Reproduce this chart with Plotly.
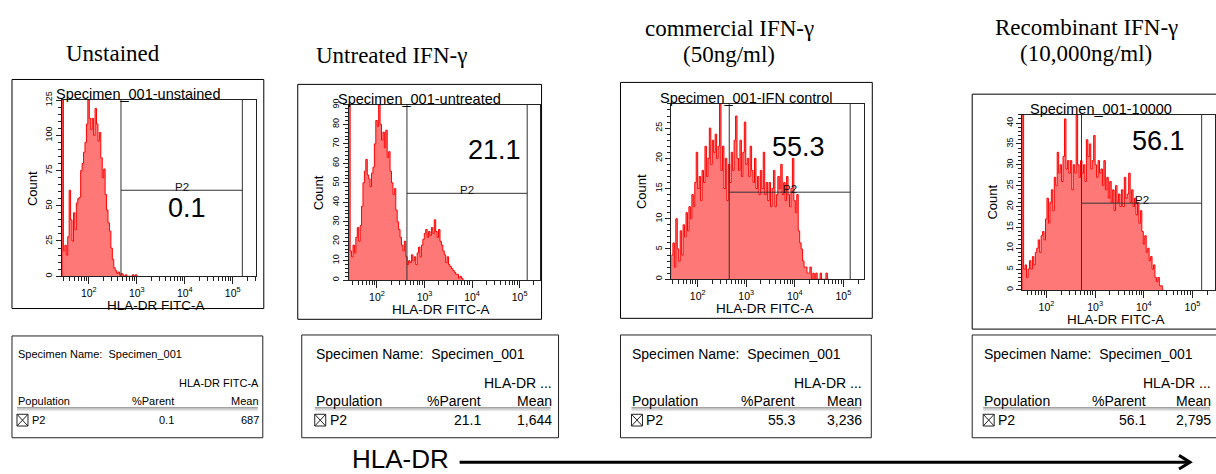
import numpy as np
import plotly.graph_objects as go

W, H = 1216, 474
SANS = "Liberation Sans, Arial, sans-serif"
SERIF = "Liberation Serif, Times New Roman, serif"

# ---- data -----------------------------------------------------------------
BIN_WIDTH = 0.03  # width of one histogram channel, in log10 units

panel_titles = [
    ["Unstained"],
    ["Untreated IFN-γ"],
    ["commercial IFN-γ", "(50ng/ml)"],
    ["Recombinant IFN-γ", "(10,000ng/ml)"],
]
specimen_names = ["Specimen_001-unstained", "Specimen_001-untreated",
                  "Specimen_001-IFN control", "Specimen_001-10000"]
pct_parent = [0.1, 21.1, 55.3, 56.1]
mean_fitc = ["687", "1,644", "3,236", "2,795"]
mean_headers = ["HLA-DR FITC-A", "HLA-DR ...", "HLA-DR ...", "HLA-DR ..."]

unstained_counts = [300, 18, 22, 15, 28, 61, 40, 25, 45, 33, 52, 55, 56, 75, 80, 88,
                    95, 108, 125, 112, 104, 112, 100, 119, 108, 96, 102, 84, 70, 76,
                    58, 47, 38, 32, 20, 12, 6, 4, 2, 3, 1, 2, 1, 0, 1, 0, 0, 0, 0, 1,
                    0, 1, 0]
untreated_counts = [200, 15, 12, 18, 14, 22, 27, 20, 28, 38, 50, 56, 62, 54, 52, 48,
                    55, 58, 70, 82, 79, 90, 80, 72, 76, 68, 77, 63, 66, 56, 50, 44,
                    47, 36, 30, 26, 22, 18, 15, 20, 12, 8, 10, 9, 13, 10, 12, 8, 14,
                    17, 12, 18, 21, 24, 26, 22, 25, 23, 27, 24, 31, 25, 22, 26, 20,
                    18, 15, 13, 9, 12, 8, 7, 6, 5, 4, 3, 3, 1, 2, 1, 0]
commercial_counts = [4, 6, 2, 10, 5, 3, 8, 4, 9, 7, 11, 8, 12, 10, 14, 12, 16, 21, 15,
                     17, 13, 18, 16, 22, 17, 20, 25, 19, 23, 21, 24, 20, 22, 29, 18,
                     22, 15, 20, 13, 19, 16, 21, 18, 23, 27, 20, 18, 23, 17, 21, 26,
                     19, 20, 17, 22, 18, 16, 20, 15, 17, 14, 18, 15, 21, 14, 16, 13,
                     16, 12, 15, 18, 12, 14, 17, 15, 19, 14, 16, 13, 17, 14, 12, 15,
                     20, 13, 11, 14, 8, 6, 5, 3, 2, 2, 1, 1, 2, 0, 1, 0, 1, 0, 0, 1,
                     0, 0, 0, 1, 0]
recombinant_counts = [60, 5, 6, 3, 5, 7, 5, 8, 6, 9, 10, 12, 9, 13, 14, 12, 17, 22, 16,
                      21, 24, 19, 27, 25, 33, 28, 30, 26, 32, 41, 29, 31, 28, 31, 24,
                      30, 28, 42, 30, 27, 31, 28, 30, 26, 36, 32, 35, 29, 31, 37, 30,
                      27, 31, 28, 29, 25, 31, 24, 27, 22, 26, 21, 24, 19, 25, 21, 23,
                      20, 24, 20, 27, 22, 23, 28, 21, 24, 20, 22, 18, 21, 16, 19, 14,
                      11, 13, 9, 10, 7, 8, 5, 6, 3, 2, 3, 1, 1, 0]
counts = [unstained_counts, untreated_counts, commercial_counts, recombinant_counts]

hist_start = [1.44, 1.405, 1.46, 1.50]          # log10 of the first displayed channel
x_ranges = [[1.44, 5.48], [1.405, 5.42], [1.46, 5.43], [1.50, 5.464]]
y_max = [125, 90, 29, 42]
y_dtick = [25, 10, 5, 5]
y_minor = [5, 2, 1, 1]
gate_lo = [2.67, 2.63, 2.65, 2.72]
gate_hi = [5.20, 5.16, 5.14, 5.19]
gate_level = [61, 44.6, 14.4, 20.8]

decades = [2, 3, 4, 5]
decade_text = ["10<sup>2</sup>", "10<sup>3</sup>", "10<sup>4</sup>", "10<sup>5</sup>"]

# ---- page layout (pixels) -------------------------------------------------
plot_px = [(62, 93, 256, 273), (349, 98, 540, 277), (672, 97, 865, 276), (1023, 108, 1216, 287)]
box_px = [(12, 72, 264, 306), (298, 77, 542, 317), (621, 75, 873, 316), (973, 87, 1230, 327)]
table_px = [(12, 334, 263, 438), (302, 333, 559, 438), (621, 333, 872, 438), (973, 333, 1230, 438)]
table_cols = [(17, 173, 258), (315, 480, 551), (632, 795, 862), (984, 1146, 1211)]
table_fonts = [11, 14, 14, 14]
big_label_px = [(187, 203), (495, 144), (799, 141), (1159, 135)]
title_px = [[(113, 45)], [(392, 47)], [(730, 20), (730, 46)], [(1087, 19), (1087, 45)]]


def fx(px):
    return px / W


def fy(py):
    return 1 - py / H


fig = go.Figure()


def text(x, y, s, size, family=SANS, xanchor="center", angle=0, yanchor="middle"):
    fig.add_annotation(x=fx(x), y=fy(y), xref="paper", yref="paper", text=s,
                       showarrow=False, xanchor=xanchor, yanchor=yanchor,
                       textangle=angle, borderpad=0,
                       font=dict(family=family, size=size, color="#000"))


def pline(x0, y0, x1, y1, color="#000", width=1):
    fig.add_shape(type="line", xref="paper", yref="paper", x0=fx(x0), y0=fy(y0),
                  x1=fx(x1), y1=fy(y1), line=dict(color=color, width=width))


def prect(x0, y0, x1, y1, color="#000", width=1):
    fig.add_shape(type="rect", xref="paper", yref="paper", x0=fx(x0), y0=fy(y0),
                  x1=fx(x1), y1=fy(y1), line=dict(color=color, width=width))


layout_axes = {}
for i in range(4):
    xa = "x" if i == 0 else f"x{i + 1}"
    ya = "y" if i == 0 else f"y{i + 1}"
    l, t, r, b = plot_px[i]

    # histogram: step outline over channel edges, filled to zero
    c = counts[i]
    edges = hist_start[i] + BIN_WIDTH * np.arange(len(c) + 1)
    xs = np.concatenate([[edges[0]], edges])
    ys = [0] + list(c) + [0]
    fig.add_trace(go.Scatter(
        x=xs, y=ys, mode="lines", xaxis=xa, yaxis=ya,
        line=dict(color="#ff0000", width=1, shape="hv"),
        fill="tozeroy", fillcolor="rgba(255,105,105,0.9)",
        hoverinfo="skip", showlegend=False))

    lo, hi = x_ranges[i]
    minor_vals = [np.log10(k * 10.0 ** n) for n in range(1, 6) for k in range(2, 10)
                  if lo < np.log10(k * 10.0 ** n) < hi]
    layout_axes["xaxis" if i == 0 else f"xaxis{i + 1}"] = dict(
        domain=[fx(l), fx(r)], anchor=ya, range=[lo, hi],
        showline=True, mirror=True, linecolor="#222", linewidth=1,
        showgrid=False, zeroline=False,
        ticks="outside", ticklen=7, tickcolor="#222", tickwidth=1,
        tickmode="array", tickvals=decades, ticktext=decade_text,
        tickfont=dict(family=SANS, size=10.5, color="#000"),
        minor=dict(tickmode="array", tickvals=minor_vals, ticks="outside",
                   ticklen=4, tickcolor="#222", tickwidth=1, showgrid=False),
    )
    layout_axes["yaxis" if i == 0 else f"yaxis{i + 1}"] = dict(
        domain=[fy(b), fy(t)], anchor=xa, range=[0, y_max[i]],
        showline=True, mirror=True, linecolor="#222", linewidth=1,
        showgrid=False, zeroline=False,
        ticks="outside", ticklen=5, tickcolor="#222", tickwidth=1,
        dtick=y_dtick[i], tick0=0, tickangle=-90,
        tickfont=dict(family=SANS, size=9, color="#000"),
        minor=dict(dtick=y_minor[i], tick0=0, ticks="outside", ticklen=3,
                   tickcolor="#222", tickwidth=1, showgrid=False),
    )

    # gate P2
    gline = dict(color="#333", width=1)
    for gx in (gate_lo[i], gate_hi[i]):
        fig.add_shape(type="line", xref=xa, yref=f"{ya} domain", x0=gx, x1=gx,
                      y0=0, y1=1, line=gline)
    fig.add_shape(type="line", xref=xa, yref=ya, x0=gate_lo[i], x1=gate_hi[i],
                  y0=gate_level[i], y1=gate_level[i], line=gline)
    fig.add_annotation(x=(gate_lo[i] + gate_hi[i]) / 2, y=gate_level[i], xref=xa, yref=ya,
                       text="P2", showarrow=False, yshift=3,
                       font=dict(family=SANS, size=11.5, color="#111"))

    # frame, labels
    bl, bt, br, bb = box_px[i]
    prect(bl, bt, br, bb)
    text((bl + br) / 2, t - 6, specimen_names[i], 14.5)
    text(l - 30, (t + b) / 2, "Count", 13, angle=-90)
    text((l + r) / 2 - 3, b + 30, "HLA-DR FITC-A", 13.5)
    bx, by = big_label_px[i]
    text(bx, by, f"{pct_parent[i]}", 27)

    for line_txt, (tx, ty) in zip(panel_titles[i], title_px[i]):
        text(tx, ty, line_txt, 23, family=SERIF)

    # statistics table
    tl, tt, tr, tb = table_px[i]
    prect(tl, tt, tr, tb, color="#222")
    fs = table_fonts[i]
    c0, c1, c2 = table_cols[i]
    text(c0, 352, "Specimen Name:  Specimen_001", fs, xanchor="left")
    text(c2 + 2, 382, mean_headers[i], fs, xanchor="right")
    text(c0, 400, "Population", fs, xanchor="left")
    text(c1 + 2, 400, "%Parent", fs, xanchor="right")
    text(c2 + 2, 400, "Mean", fs, xanchor="right")
    pline(c0, 407.5, c2, 407.5, color="#666")
    pline(c0, 409.5, c2, 409.5, color="#bbb")
    prect(c0, 414, c0 + 11, 426, color="#222")
    pline(c0, 414, c0 + 11, 426, color="#222")
    pline(c0, 426, c0 + 11, 414, color="#222")
    text(c0 + 14, 420, "P2", fs, xanchor="left")
    text(c1 + 2, 420, f"{pct_parent[i]}", fs, xanchor="right")
    text(c2 + 2, 420, mean_fitc[i], fs, xanchor="right")

# HLA-DR intensity arrow along the bottom
text(401, 460, "HLA-DR", 26)
pline(460, 463, 1189, 463, width=3)
fig.add_shape(type="path", xref="paper", yref="paper",
              path=f"M {fx(1180)},{fy(456)} L {fx(1191)},{fy(463)} L {fx(1180)},{fy(470)}",
              line=dict(color="#000", width=3))

fig.update_layout(
    width=W, height=H, margin=dict(l=0, r=0, t=0, b=0),
    paper_bgcolor="white", plot_bgcolor="white", showlegend=False,
    **layout_axes,
)

fig.write_html("out.html")
